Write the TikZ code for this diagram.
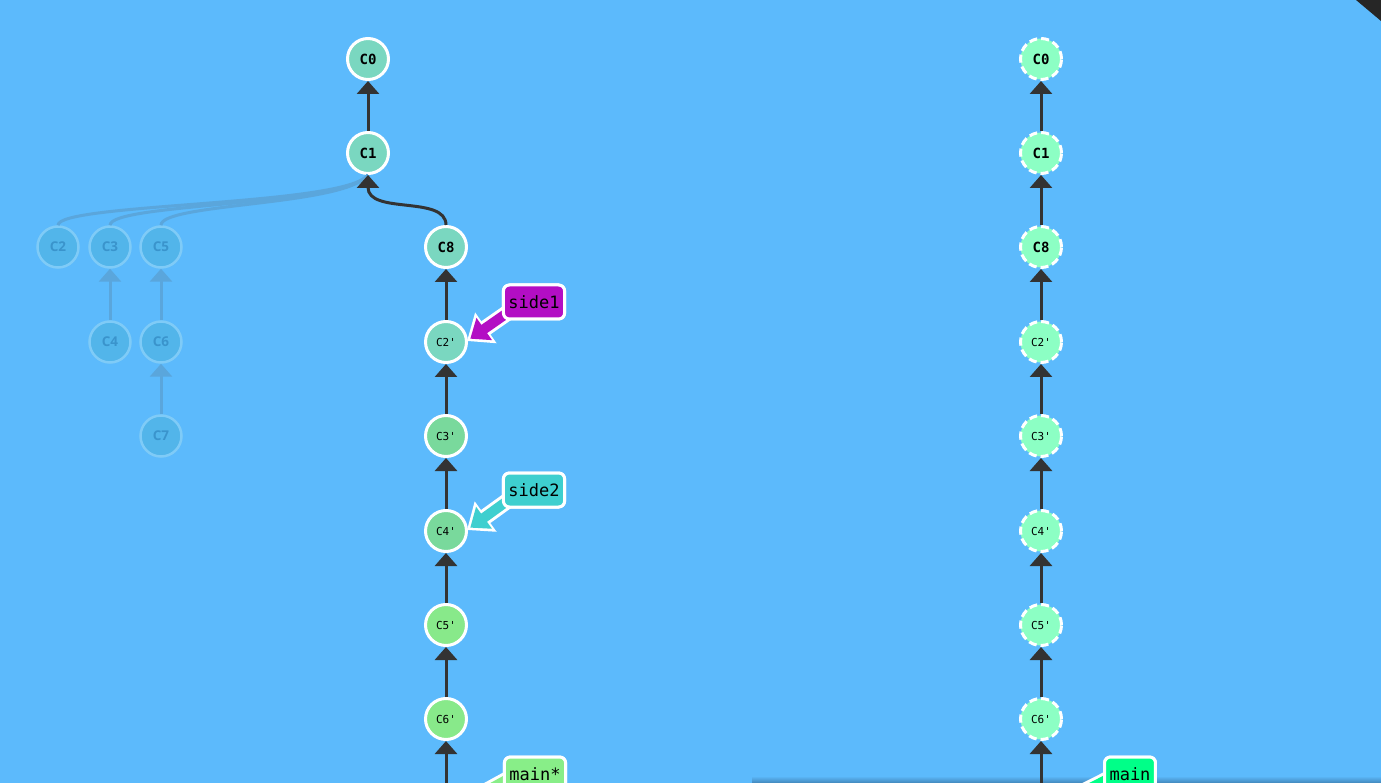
\documentclass[tikz,border=0pt]{standalone}
\usepackage{fontspec}
\setmainfont{DejaVu Sans}
\newfontfamily\codefont{DejaVu Sans Mono}
\newfontfamily\fadefont{Open Sans}
\usetikzlibrary{arrows.meta}

\definecolor{bgblue}{HTML}{5CBAFC}
\definecolor{cteal}{HTML}{7AD7C0}
\definecolor{cgreen}{HTML}{79D99C}
\definecolor{clime}{HTML}{88E98A}
\definecolor{cmint}{HTML}{8CFFC4}
\definecolor{fadefill}{HTML}{52B5EA}
\definecolor{fadeline}{HTML}{7FCBF7}
\definecolor{fadetext}{HTML}{3A94CC}
\definecolor{fadeedge}{HTML}{5AA6DC}
\definecolor{edgegray}{HTML}{333333}
\definecolor{tagpurple}{HTML}{B30EC4}
\definecolor{tagcyan}{HTML}{3ECFCF}
\definecolor{taglime}{HTML}{88EE88}
\definecolor{tagmint}{HTML}{00FF88}
\definecolor{shadowblue}{HTML}{3F7FB0}

\begin{document}
\begin{tikzpicture}[x=1pt, y=-1pt,
    commit/.style={circle, draw=white, line width=3pt, minimum size=41pt, inner sep=0pt,
        font=\codefont\bfseries\fontsize{14}{14}\selectfont},
    copied/.style={commit, font=\codefont\fontsize{11}{11}\selectfont},
    target/.style={copied, fill=cmint, dash pattern=on 8pt off 4pt},
    targetb/.style={target, font=\codefont\bfseries\fontsize{14}{14}\selectfont},
    faded/.style={circle, fill=fadefill, draw=fadeline, line width=2.5pt, minimum size=41pt,
        inner sep=0pt, text=fadetext, font=\fadefont\bfseries\fontsize{13.5}{13.5}\selectfont},
    edge/.style={draw=edgegray, line width=3pt, -{Triangle[width=22pt,length=13pt]}},
    fadearrow/.style={draw=fadeedge, line width=3pt, -{Triangle[width=22pt,length=13pt]}},
    fadecurve/.style={draw=fadeedge, line width=3pt},
    tag/.style={draw=white, line width=3pt, rounded corners=6pt, inner xsep=5pt,
        minimum height=34pt, font=\codefont\fontsize{17}{17}\selectfont},
    tagarrow/.style={draw=#1, line width=10pt, -{Triangle[width=26pt,length=17pt]}, shorten >=4pt,
        preaction={draw=white, line width=16pt, -{Triangle[width=36pt,length=23pt]}, shorten >=0pt}}]

    % canvas
    \clip (0,0) rectangle (1381,783);
    \fill[bgblue] (0,0) rectangle (1381,783);
    \fill[black!85] (1356,0) -- (1381,0) -- (1381,21) -- cycle;
    \shade[top color=bgblue, bottom color=shadowblue] (752,776) rectangle (1381,784);

    % left: commits before the rebase
    \node[commit, fill=cteal] (c0) at (368,59) {C0};
    \node[commit, fill=cteal] (c1) at (368,153) {C1};
    \node[faded] (c2) at (58,247) {C2};
    \node[faded] (c3) at (110,247) {C3};
    \node[faded] (c5) at (161,247) {C5};
    \node[faded] (c4) at (110,342) {C4};
    \node[faded] (c6) at (161,342) {C6};
    \node[faded] (c7) at (161,436) {C7};

    % left: rebased commits
    \node[commit, fill=cteal] (c8) at (446,247) {C8};
    \node[copied, fill=cteal] (c2p) at (446,342) {C2'};
    \node[copied, fill=cgreen] (c3p) at (446,436) {C3'};
    \node[copied, fill=cgreen] (c4p) at (446,531) {C4'};
    \node[copied, fill=clime] (c5p) at (446,625) {C5'};
    \node[copied, fill=clime] (c6p) at (446,719) {C6'};
    \coordinate (c7p) at (446,813);

    % faded links
    \draw[fadearrow] (c4.north) -- (c3.south);
    \draw[fadearrow] (c6.north) -- (c5.south);
    \draw[fadearrow] (c7.north) -- (c6.south);
    \draw[fadecurve] (c2.north) .. controls (58,203) and (345,206) .. (c1.south);
    \draw[fadecurve] (c3.north) .. controls (110,203) and (345,206) .. (c1.south);
    \draw[fadecurve] (c5.north) .. controls (161,203) and (345,206) .. (c1.south);

    % links
    \draw[edge] (c1.north) -- (c0.south);
    \draw[edge] (c8.north) .. controls (446,195) and (368,215) .. (c1.south);
    \draw[edge] (c2p.north) -- (c8.south);
    \draw[edge] (c3p.north) -- (c2p.south);
    \draw[edge] (c4p.north) -- (c3p.south);
    \draw[edge] (c5p.north) -- (c4p.south);
    \draw[edge] (c6p.north) -- (c5p.south);
    \draw[edge] (c7p) -- (c6p.south);

    % right: goal
    \node[targetb] (r0) at (1041,59) {C0};
    \node[targetb] (r1) at (1041,153) {C1};
    \node[targetb] (r8) at (1041,247) {C8};
    \node[target] (r2p) at (1041,342) {C2'};
    \node[target] (r3p) at (1041,436) {C3'};
    \node[target] (r4p) at (1041,531) {C4'};
    \node[target] (r5p) at (1041,625) {C5'};
    \node[target] (r6p) at (1041,719) {C6'};
    \coordinate (r7p) at (1041,813);

    \draw[edge] (r1.north) -- (r0.south);
    \draw[edge] (r8.north) -- (r1.south);
    \draw[edge] (r2p.north) -- (r8.south);
    \draw[edge] (r3p.north) -- (r2p.south);
    \draw[edge] (r4p.north) -- (r3p.south);
    \draw[edge] (r5p.north) -- (r4p.south);
    \draw[edge] (r6p.north) -- (r5p.south);
    \draw[edge] (r7p) -- (r6p.south);

    % branch labels
    \node[tag, fill=tagpurple] (side1) at (534,302) {side1};
    \node[tag, fill=tagcyan] (side2) at (534,490) {side2};
    \node[tag, fill=taglime] (mainstar) at (535,774) {main*};
    \node[tag, fill=tagmint] (mainr) at (1130,774) {main};

    \draw[tagarrow=tagpurple] ([shift={(6,-8)}]side1.south west) -- ([shift={(-1,-1)}]c2p.east);
    \draw[tagarrow=tagcyan] ([shift={(6,-8)}]side2.south west) -- ([shift={(-1,-1)}]c4p.east);
    \draw[tagarrow=taglime] ([shift={(6,-14)}]mainstar.south west) -- (c7p);
    \draw[tagarrow=tagmint] ([shift={(6,-14)}]mainr.south west) -- (r7p);
    \node[tag, fill=tagpurple] at (side1) {side1};
    \node[tag, fill=tagcyan] at (side2) {side2};
    \node[tag, fill=taglime] at (mainstar) {main*};
    \node[tag, fill=tagmint] at (mainr) {main};
\end{tikzpicture}
\end{document}
